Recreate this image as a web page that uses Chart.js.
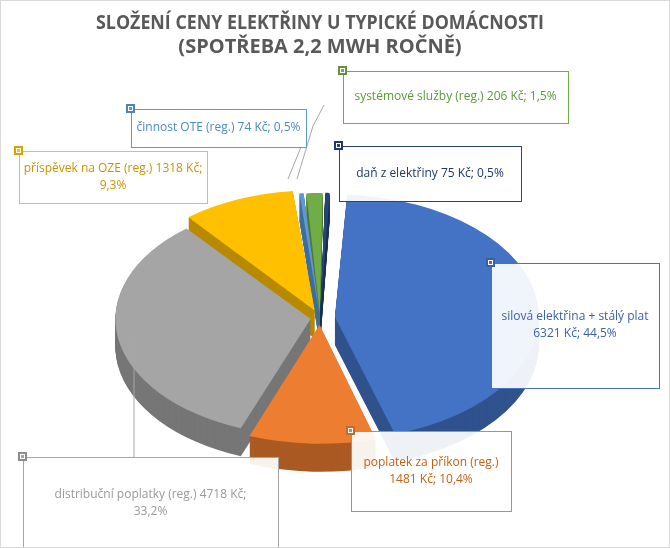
<!DOCTYPE html>
<html><head><meta charset="utf-8">
<script src="https://cdn.jsdelivr.net/npm/chart.js@4"></script>
<style>html,body{margin:0;background:#fff}#w{width:670px;height:548px;position:relative;border:1px solid #d9d9d9;box-sizing:border-box}</style>
</head><body><div id="w"><canvas id="c"></canvas></div>
<script>
const categories=["silová elektřina + stálý plat","poplatek za příkon (reg.)","distribuční poplatky (reg.)","příspěvek na OZE (reg.)","činnost OTE (reg.)","systémové služby (reg.)","daň z elektřiny"];
const valuesKc=[6321,1481,4718,1318,74,206,75];
const percentLabels=["44,5%","10,4%","33,2%","9,3%","0,5%","1,5%","0,5%"];
const colors=["#4472c4","#ed7d31","#a5a5a5","#ffc000","#5b9bd5","#70ad47","#264478"];
const offsets=[60,45,38,55,30,30,30];
const textColors=["#3a62a8","#c85f14","#9a9a9a","#c99400","#4a8ac6","#5a9a38","#1f3864"];
const boxes=[
 [490,262,168,125,[categories[0],valuesKc[0]+" Kč; "+percentLabels[0]]],
 [350,430,160,80,[categories[1],valuesKc[1]+" Kč; "+percentLabels[1]]],
 [22,456,255,92,[categories[2]+" "+valuesKc[2]+" Kč;",percentLabels[2]]],
 [18,150,188,52,[categories[3]+" "+valuesKc[3]+" Kč;",percentLabels[3]]],
 [130,108,175,38,[categories[4]+" "+valuesKc[4]+" Kč; "+percentLabels[4]]],
 [342,70,225,52,[categories[5]+" "+valuesKc[5]+" Kč; "+percentLabels[5]]],
 [338,145,182,55,[categories[6]+" "+valuesKc[6]+" Kč; "+percentLabels[6]]]
];
function shade(h,f){const n=parseInt(h.slice(1),16);const r=(n>>16)*f|0,g=((n>>8)&255)*f|0,b=(n&255)*f|0;return`rgb(${r},${g},${b})`;}
const SQ=0.6, DEPTH=28;
const pie3d={id:'pie3d',
 beforeDatasetsDraw(ch){const m=ch.getDatasetMeta(0);const el=m.data[0];const cy=el.y;const ctx=ch.ctx;
  ctx.save();ctx.translate(0,cy);ctx.scale(1,SQ);ctx.translate(0,-cy);
  for(let d=DEPTH;d>0;d--){ctx.save();ctx.translate(0,d/SQ);
   m.data.forEach((a,i)=>{const o=a.options.backgroundColor,b=a.options.borderWidth;a.options.backgroundColor=shade(colors[i],0.72);a.options.borderWidth=0;a.draw(ctx);a.options.backgroundColor=o;a.options.borderWidth=b;});
   ctx.restore();}
  ctx.save();
 },
 afterDatasetsDraw(ch){const ctx=ch.ctx;ctx.restore();ctx.restore();
  ctx.strokeStyle="#a6a6a6";ctx.lineWidth=1;
  [[[300,146],[287,178]],[[323,104],[312,125],[296,178]],[[133,456],[133,330]]].forEach(p=>{ctx.beginPath();ctx.moveTo(...p[0]);p.slice(1).forEach(q=>ctx.lineTo(...q));ctx.stroke();});
  boxes.forEach((b,i)=>{const[x,y,w,h,lines]=b;ctx.fillStyle="rgba(255,255,255,0.92)";ctx.fillRect(x,y,w,h);ctx.strokeStyle=colors[i];ctx.lineWidth=1;ctx.strokeRect(x+.5,y+.5,w,h);
   ctx.fillStyle=shade(colors[i],0.85);ctx.fillRect(x-5,y-5,9,9);ctx.fillStyle="#fff";ctx.fillRect(x-3,y-3,5,5);ctx.fillStyle=colors[i];ctx.fillRect(x-2,y-2,3,3);
   ctx.font="12px 'Open Sans', sans-serif";ctx.fillStyle=textColors[i];ctx.textAlign="center";ctx.textBaseline="middle";
   const lh=17,y0=y+h/2-(lines.length-1)*lh/2;lines.forEach((t,k)=>ctx.fillText(t,x+w/2,y0+k*lh));});
 }};
new Chart(document.getElementById('c'),{type:'pie',
 data:{labels:categories,datasets:[{data:valuesKc,backgroundColor:colors,offset:offsets,borderWidth:0}]},
 options:{responsive:true,maintainAspectRatio:false,animation:false,rotation:3,
  layout:{padding:{left:95,right:125,top:0,bottom:0}},
  plugins:{legend:{display:false},tooltip:{enabled:false},
   title:{display:true,text:["SLOŽENÍ CENY ELEKTŘINY U TYPICKÉ DOMÁCNOSTI","(SPOTŘEBA 2,2 MWH ROČNĚ)"],color:"#595959",font:{family:"'Open Sans', sans-serif",size:20,weight:'bold'},padding:{top:10,bottom:30}}}},
 plugins:[pie3d]});
</script></body></html>
